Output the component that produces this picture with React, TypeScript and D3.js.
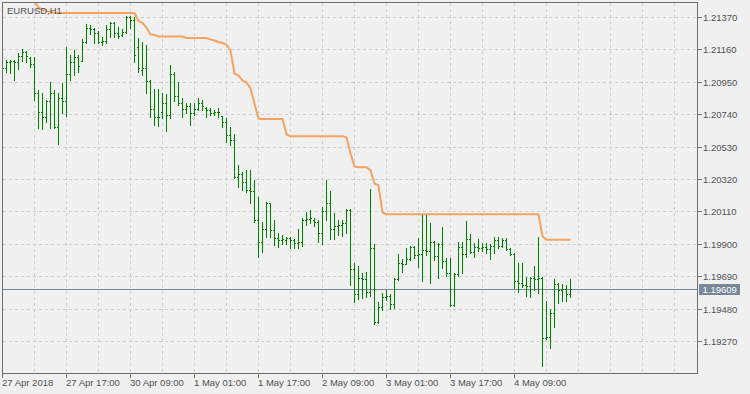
import React from 'react';
import * as d3 from 'd3';

const symbolLabel = 'EURUSD,H1';
const lastPrice = 1.19609;

const openP = [
  1.21046, 1.21040, 1.21078, 1.21085, 1.21078, 1.21117, 1.21143, 1.21104, 1.21065, 1.20878,
  1.20754, 1.20722, 1.20826, 1.20878, 1.20657, 1.20845, 1.20826, 1.21001, 1.21078, 1.21111,
  1.21085, 1.21208, 1.21299, 1.21292, 1.21266, 1.21208, 1.21215, 1.21292, 1.21331, 1.21266,
  1.21253, 1.21273, 1.21370, 1.21351, 1.21176, 1.21027, 1.21040, 1.20955, 1.20774, 1.20722,
  1.20754, 1.20813, 1.20735, 1.21001, 1.20858, 1.20813, 1.20774, 1.20793, 1.20748, 1.20774,
  1.20813, 1.20780, 1.20767, 1.20748, 1.20754, 1.20729, 1.20690, 1.20605, 1.20573, 1.20333,
  1.20353, 1.20301, 1.20249, 1.20243, 1.20055, 1.19912, 1.19996, 1.20165, 1.19990, 1.19938,
  1.19925, 1.19925, 1.19938, 1.19925, 1.19906, 1.19912, 1.20055, 1.20061, 1.20055, 1.20042,
  1.19970, 1.20113, 1.20165, 1.19996, 1.20016, 1.20022, 1.20035, 1.20119, 1.19737, 1.19575,
  1.19679, 1.19672, 1.19588, 1.19873, 1.19394, 1.19491, 1.19556, 1.19562, 1.19510, 1.19672,
  1.19776, 1.19769, 1.19802, 1.19880, 1.19828, 1.19834, 1.19860, 1.19854, 1.19912, 1.19821,
  1.19899, 1.19789, 1.19711, 1.19504, 1.19705, 1.19880, 1.19834, 1.19931, 1.19847, 1.19880,
  1.19873, 1.19880, 1.19867, 1.19886, 1.19925, 1.19886, 1.19925, 1.19867, 1.19834, 1.19659,
  1.19646, 1.19633, 1.19627, 1.19679, 1.19672, 1.19679, 1.19290, 1.19296, 1.19452, 1.19640,
  1.19601, 1.19607, 1.19575,
];

const highP = [
  1.21065, 1.21091, 1.21091, 1.21091, 1.21137, 1.21163, 1.21150, 1.21111, 1.21111, 1.20897,
  1.20878, 1.20832, 1.20949, 1.20897, 1.20878, 1.20942, 1.21176, 1.21124, 1.21156, 1.21124,
  1.21227, 1.21325, 1.21318, 1.21299, 1.21279, 1.21240, 1.21318, 1.21338, 1.21338, 1.21305,
  1.21292, 1.21377, 1.21377, 1.21370, 1.21234, 1.21208, 1.21189, 1.20962, 1.20903, 1.20903,
  1.20878, 1.20871, 1.21059, 1.21014, 1.20949, 1.20845, 1.20813, 1.20813, 1.20813, 1.20845,
  1.20832, 1.20787, 1.20780, 1.20767, 1.20780, 1.20729, 1.20716, 1.20657, 1.20612, 1.20411,
  1.20366, 1.20379, 1.20379, 1.20314, 1.20204, 1.20042, 1.20171, 1.20165, 1.20055, 1.19970,
  1.19957, 1.19944, 1.19944, 1.19931, 1.19996, 1.20068, 1.20106, 1.20119, 1.20068, 1.20055,
  1.20139, 1.20314, 1.20243, 1.20100, 1.20055, 1.20055, 1.20126, 1.20126, 1.19776, 1.19757,
  1.19711, 1.19718, 1.20255, 1.19899, 1.19523, 1.19582, 1.19601, 1.19575, 1.19679, 1.19834,
  1.19802, 1.19873, 1.19886, 1.19886, 1.19938, 1.20087, 1.20087, 1.20035, 1.19919, 1.19906,
  1.20009, 1.19808, 1.19808, 1.19711, 1.19912, 1.19912, 1.20048, 1.19964, 1.19906, 1.19931,
  1.19906, 1.19906, 1.19899, 1.19944, 1.19944, 1.19938, 1.19938, 1.19873, 1.19841, 1.19776,
  1.19776, 1.19685, 1.19685, 1.19757, 1.19944, 1.19685, 1.19530, 1.19478, 1.19672, 1.19646,
  1.19640, 1.19633, 1.19672,
];

const lowP = [
  1.21027, 1.21014, 1.21007, 1.20962, 1.21033, 1.21085, 1.21078, 1.21046, 1.20832, 1.20651,
  1.20644, 1.20690, 1.20651, 1.20651, 1.20547, 1.20748, 1.20729, 1.20962, 1.20994, 1.21014,
  1.21085, 1.21202, 1.21260, 1.21202, 1.21202, 1.21189, 1.21202, 1.21240, 1.21240, 1.21234,
  1.21247, 1.21266, 1.21299, 1.21078, 1.21014, 1.20994, 1.20878, 1.20722, 1.20670, 1.20664,
  1.20716, 1.20631, 1.20716, 1.20826, 1.20800, 1.20722, 1.20748, 1.20670, 1.20735, 1.20767,
  1.20767, 1.20722, 1.20735, 1.20735, 1.20722, 1.20657, 1.20560, 1.20541, 1.20327, 1.20268,
  1.20249, 1.20236, 1.20165, 1.20042, 1.19815, 1.19847, 1.19944, 1.19944, 1.19893, 1.19880,
  1.19899, 1.19899, 1.19873, 1.19873, 1.19873, 1.19886, 1.20022, 1.20035, 1.20016, 1.19912,
  1.19899, 1.20055, 1.19931, 1.19931, 1.19957, 1.19951, 1.19970, 1.19633, 1.19523, 1.19543,
  1.19549, 1.19556, 1.19562, 1.19381, 1.19387, 1.19471, 1.19536, 1.19478, 1.19484, 1.19666,
  1.19718, 1.19769, 1.19795, 1.19808, 1.19750, 1.19659, 1.19828, 1.19646, 1.19795, 1.19679,
  1.19744, 1.19692, 1.19497, 1.19497, 1.19692, 1.19711, 1.19815, 1.19841, 1.19815, 1.19854,
  1.19854, 1.19841, 1.19802, 1.19841, 1.19873, 1.19880, 1.19860, 1.19828, 1.19614, 1.19588,
  1.19620, 1.19562, 1.19556, 1.19601, 1.19582, 1.19108, 1.19283, 1.19225, 1.19361, 1.19517,
  1.19530, 1.19530, 1.19556,
];

const closeP = [
  1.21040, 1.21078, 1.21085, 1.21078, 1.21117, 1.21143, 1.21117, 1.21065, 1.20878, 1.20754,
  1.20722, 1.20826, 1.20878, 1.20657, 1.20845, 1.20826, 1.21001, 1.21078, 1.21111, 1.21053,
  1.21208, 1.21299, 1.21292, 1.21266, 1.21208, 1.21215, 1.21292, 1.21331, 1.21266, 1.21247,
  1.21273, 1.21370, 1.21351, 1.21124, 1.21040, 1.21040, 1.20955, 1.20774, 1.20722, 1.20722,
  1.20813, 1.20735, 1.21001, 1.20858, 1.20813, 1.20774, 1.20793, 1.20748, 1.20774, 1.20813,
  1.20793, 1.20767, 1.20748, 1.20754, 1.20754, 1.20690, 1.20605, 1.20573, 1.20333, 1.20353,
  1.20301, 1.20249, 1.20243, 1.20055, 1.19912, 1.19996, 1.20165, 1.19990, 1.19938, 1.19925,
  1.19931, 1.19938, 1.19925, 1.19906, 1.19912, 1.20055, 1.20061, 1.20068, 1.20042, 1.19970,
  1.20113, 1.20165, 1.19996, 1.20016, 1.20022, 1.20035, 1.20119, 1.19737, 1.19575, 1.19679,
  1.19672, 1.19588, 1.19873, 1.19394, 1.19491, 1.19556, 1.19562, 1.19510, 1.19672, 1.19776,
  1.19769, 1.19802, 1.19880, 1.19828, 1.19834, 1.19860, 1.19854, 1.19912, 1.19821, 1.19899,
  1.19789, 1.19711, 1.19504, 1.19705, 1.19880, 1.19834, 1.19931, 1.19847, 1.19880, 1.19873,
  1.19880, 1.19867, 1.19886, 1.19925, 1.19886, 1.19925, 1.19867, 1.19834, 1.19659, 1.19646,
  1.19633, 1.19627, 1.19679, 1.19672, 1.19679, 1.19290, 1.19296, 1.19452, 1.19640, 1.19601,
  1.19607, 1.19575, 1.19609,
];

const trailStop = [
  1.21532, 1.21532, 1.21532, 1.21532, 1.21532, 1.21532, 1.21519, 1.21500, 1.21474, 1.21435,
  1.21419, 1.21412, 1.21406, 1.21399, 1.21399, 1.21399, 1.21399, 1.21399, 1.21399, 1.21399,
  1.21399, 1.21399, 1.21399, 1.21399, 1.21399, 1.21399, 1.21399, 1.21399, 1.21399, 1.21399,
  1.21399, 1.21399, 1.21399, 1.21399, 1.21347, 1.21334, 1.21305, 1.21260, 1.21257, 1.21247,
  1.21247, 1.21247, 1.21247, 1.21247, 1.21247, 1.21247, 1.21237, 1.21237, 1.21237, 1.21237,
  1.21237, 1.21237, 1.21228, 1.21221, 1.21211, 1.21205, 1.21195, 1.21156, 1.21007, 1.20994,
  1.20962, 1.20949, 1.20910, 1.20813, 1.20715, 1.20712, 1.20712, 1.20712, 1.20712, 1.20712,
  1.20712, 1.20612, 1.20601, 1.20601, 1.20601, 1.20601, 1.20601, 1.20601, 1.20601, 1.20601,
  1.20601, 1.20601, 1.20601, 1.20601, 1.20601, 1.20601, 1.20592, 1.20489, 1.20405, 1.20400,
  1.20400, 1.20400, 1.20379, 1.20294, 1.20281, 1.20106, 1.20095, 1.20095, 1.20095, 1.20095,
  1.20095, 1.20095, 1.20095, 1.20095, 1.20095, 1.20095, 1.20095, 1.20095, 1.20095, 1.20095,
  1.20095, 1.20095, 1.20095, 1.20095, 1.20095, 1.20095, 1.20095, 1.20095, 1.20095, 1.20095,
  1.20095, 1.20095, 1.20095, 1.20095, 1.20095, 1.20095, 1.20095, 1.20095, 1.20095, 1.20095,
  1.20095, 1.20095, 1.20095, 1.20095, 1.20093, 1.19951, 1.19930, 1.19930, 1.19930, 1.19930,
  1.19930, 1.19930, 1.19930,
];

const priceTicks = [1.19270, 1.19480, 1.19690, 1.19900, 1.20110, 1.20320, 1.20530, 1.20740, 1.20950, 1.21160, 1.21370];
const timeLabels = ['27 Apr 2018', '27 Apr 17:00', '30 Apr 09:00', '1 May 01:00', '1 May 17:00', '2 May 09:00', '3 May 01:00', '3 May 17:00', '4 May 09:00'];
const barsPerLabel = 16;
const barsPerGrid = 8;

const FONT = '"Liberation Sans", Arial, sans-serif';
const W = 750;
const H = 394;

export default function App() {
  const L = 2, T = 2, R = 697, B = 373;
  const x = d3.scaleLinear().domain([0, 173.75]).range([L, R]);
  const y = d3.scaleLinear().domain([1.19270, 1.21370]).range([341.5, 17.5]);
  const row = (p: number) => Math.floor(y(p));
  const col = (i: number) => Math.round(x(i));

  const gridCount = Math.floor(173.75 / barsPerGrid);
  const vGrid = d3.range(1, gridCount + 1).map((k) => col(k * barsPerGrid));

  const trailLine = d3
    .line<number>()
    .x((_, i) => col(i) + 0.5)
    .y((d) => y(d));

  const bars = openP.map((o, i) => ({ o, h: highP[i], l: lowP[i], c: closeP[i], i }));

  return (
    <svg width={W} height={H} style={{ position: 'absolute', left: 0, top: 0, display: 'block' }}>
      <defs>
        <clipPath id="plotClip">
          <rect x={L + 1} y={T + 1} width={R - L - 1} height={B - T - 1} />
        </clipPath>
      </defs>
      <rect x={0} y={0} width={W} height={H} fill="#f0f0f0" />

      <g stroke="#cfcfcf" strokeWidth={1} strokeDasharray="3,3" shapeRendering="crispEdges">
        {priceTicks.map((p) => (
          <line key={'h' + p} x1={L + 1} x2={R} y1={row(p) + 0.5} y2={row(p) + 0.5} />
        ))}
        {vGrid.map((c) => (
          <line key={'v' + c} x1={c + 0.5} x2={c + 0.5} y1={T + 1} y2={B} />
        ))}
      </g>

      <line x1={L} x2={R} y1={row(lastPrice) + 0.5} y2={row(lastPrice) + 0.5} stroke="#778899" strokeWidth={1} shapeRendering="crispEdges" />

      <g fill="#008000" shapeRendering="crispEdges" clipPath="url(#plotClip)">
        {bars.map((b) => {
          const c = col(b.i);
          const top = row(b.h);
          const bot = row(b.l);
          return (
            <g key={b.i}>
              <rect x={c} y={top} width={1} height={bot - top + 1} />
              <rect x={c - 1} y={row(b.o)} width={1} height={1} />
              <rect x={c + 1} y={row(b.c)} width={1} height={1} />
            </g>
          );
        })}
      </g>

      <g clipPath="url(#plotClip)">
        <path d={trailLine(trailStop) || ''} fill="none" stroke="#f4a460" strokeWidth={2} strokeLinejoin="miter" />
      </g>

      <text x={7} y={13.5} fontFamily={FONT} fontSize={9.5} fill="#505050">{symbolLabel}</text>

      <rect x={L + 0.5} y={T + 0.5} width={R - L} height={B - T} fill="none" stroke="#6e6e6e" strokeWidth={1} shapeRendering="crispEdges" />

      <g fontFamily={FONT} fontSize={9.5} fill="#505050">
        {priceTicks.map((p) => (
          <g key={'yt' + p}>
            <rect x={R + 1} y={row(p)} width={4} height={1} fill="#6e6e6e" />
            <text x={703} y={row(p) + 4}>{p.toFixed(5)}</text>
          </g>
        ))}
      </g>

      <rect x={699} y={row(lastPrice) - 5} width={41} height={11} fill="#778899" />
      <text x={702.5} y={row(lastPrice) + 4} fontFamily={FONT} fontSize={9.5} fill="#ffffff">{lastPrice.toFixed(5)}</text>

      <g fontFamily={FONT} fontSize={9.5} fill="#505050">
        {timeLabels.map((t, k) => {
          const c = col(k * barsPerLabel);
          return (
            <g key={t}>
              <rect x={c} y={B} width={1} height={5} fill="#6e6e6e" />
              <text x={c} y={386}>{t}</text>
            </g>
          );
        })}
      </g>
    </svg>
  );
}
